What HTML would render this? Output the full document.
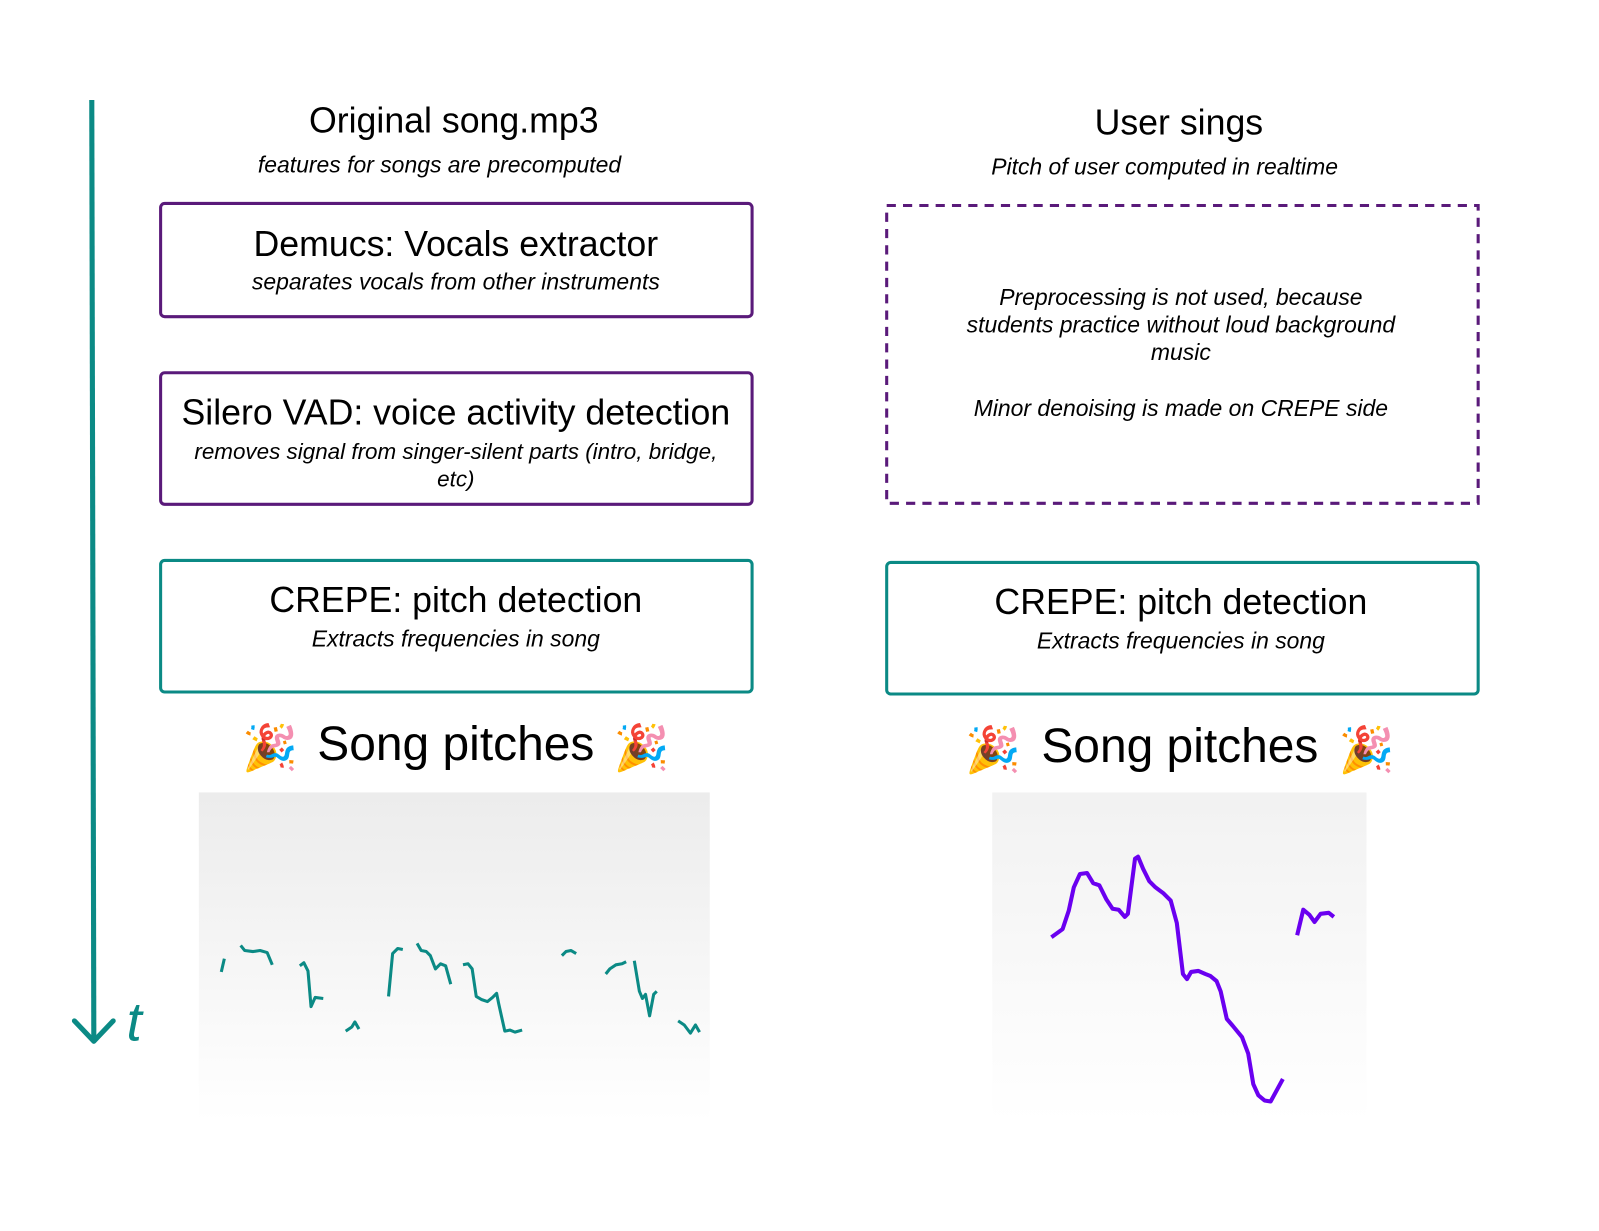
<!DOCTYPE html>
<html><head><meta charset="utf-8"><style>
html,body{margin:0;padding:0;background:#fff;}
svg{display:block;}
text{font-family:"Liberation Sans",sans-serif;fill:#000;}
.it{font-style:italic;}
</style></head><body>
<svg width="1599" height="1231" viewBox="0 0 1568 1207" preserveAspectRatio="none" xmlns="http://www.w3.org/2000/svg">
<defs>
<linearGradient id="g" x1="0" y1="0" x2="0" y2="1">
<stop offset="0" stop-color="#ececec"/><stop offset="1" stop-color="#ffffff"/>
</linearGradient>
</defs>
<rect width="1568" height="1207" fill="#fff"/>
<line x1="90" y1="98" x2="92" y2="1021" stroke="#0b8a85" stroke-width="5"/>
<polyline points="73,1001 92,1021 111,1001" fill="none" stroke="#0b8a85" stroke-width="5" stroke-linecap="round" stroke-linejoin="round"/>
<text x="124" y="1020" font-size="54" class="it" style="fill:#0b8a85">t</text>

<text x="445" y="130" font-size="35" text-anchor="middle">Original song.mp3</text>
<text x="431" y="169" font-size="22.5" class="it" text-anchor="middle">features for songs are precomputed</text>

<rect x="157.5" y="199.5" width="580" height="111" rx="4" fill="none" stroke="#5a1a7a" stroke-width="3"/>
<text x="447" y="251" font-size="35" text-anchor="middle">Demucs: Vocals extractor</text>
<text x="447" y="284" font-size="22.5" class="it" text-anchor="middle">separates vocals from other instruments</text>

<rect x="157.5" y="365.5" width="580" height="129" rx="4" fill="none" stroke="#5a1a7a" stroke-width="3"/>
<text x="447" y="416" font-size="35" text-anchor="middle">Silero VAD: voice activity detection</text>
<text x="447" y="450" font-size="22" class="it" text-anchor="middle">removes signal from singer-silent parts (intro, bridge,</text>
<text x="447" y="477" font-size="22" class="it" text-anchor="middle">etc)</text>

<rect x="157.5" y="549.5" width="580" height="129" rx="4" fill="none" stroke="#0b8a85" stroke-width="3"/>
<text x="447" y="600" font-size="35" text-anchor="middle">CREPE: pitch detection</text>
<text x="447" y="634" font-size="22.5" class="it" text-anchor="middle">Extracts frequencies in song</text>

<text x="447" y="745" font-size="47" text-anchor="middle">Song pitches</text>
<text x="265" y="748" font-size="44" text-anchor="middle">🎉</text>
<text x="629" y="748" font-size="44" text-anchor="middle">🎉</text>

<rect x="195" y="777" width="501" height="323" fill="url(#g)"/>
<g fill="none" stroke="#0b8a85" stroke-width="3" stroke-linejoin="round">
<polyline points="217,953 220,940"/>
<polyline points="236,927 240,932 248,933 255,932 262,934 267,946"/>
<polyline points="294,947 298,944 302,952 305,987 309,978 317,979"/>
<polyline points="339,1011 345,1007 348,1002 352,1009"/>
<polyline points="381,977 385,935 390,930 395,931"/>
<polyline points="409,925 413,932 418,933 422,937 427,950 432,945 437,947 442,965"/>
<polyline points="454,946 459,945 463,950 467,977 472,980 478,982 483,978 487,974 489,984 495,1011 500,1010 505,1012 512,1010"/>
<polyline points="551,937 555,933 560,932 565,935"/>
<polyline points="594,955 598,950 604,946 610,945 614,943"/>
<polyline points="622,942 627,972 630,979 633,975 637,996 641,975 644,972"/>
<polyline points="665,1001 671,1005 677,1013 682,1005 686,1012"/>
</g>

<text x="1156" y="132" font-size="35" text-anchor="middle">User sings</text>
<text x="1142" y="171" font-size="22.5" class="it" text-anchor="middle">Pitch of user computed in realtime</text>

<rect x="869.5" y="201.5" width="580" height="292" fill="none" stroke="#5a1a7a" stroke-width="3" stroke-dasharray="9,7"/>
<text x="1158" y="299" font-size="22.5" class="it" text-anchor="middle">Preprocessing is not used, because</text>
<text x="1158" y="326" font-size="22.5" class="it" text-anchor="middle">students practice without loud background</text>
<text x="1158" y="353" font-size="22.5" class="it" text-anchor="middle">music</text>
<text x="1158" y="408" font-size="22.5" class="it" text-anchor="middle">Minor denoising is made on CREPE side</text>

<rect x="869.5" y="551.5" width="580" height="129" rx="4" fill="none" stroke="#0b8a85" stroke-width="3"/>
<text x="1158" y="602" font-size="35" text-anchor="middle">CREPE: pitch detection</text>
<text x="1158" y="636" font-size="22.5" class="it" text-anchor="middle">Extracts frequencies in song</text>

<text x="1157" y="747" font-size="47" text-anchor="middle">Song pitches</text>
<text x="974" y="750" font-size="44" text-anchor="middle">🎉</text>
<text x="1340" y="750" font-size="44" text-anchor="middle">🎉</text>

<rect x="973" y="777" width="367" height="323" fill="url(#g)" opacity="0.7"/>
<g fill="none" stroke="#6a00f0" stroke-width="4" stroke-linejoin="round">
<polyline points="1031,919 1042,911 1048,893 1053,870 1059,857 1066,856 1072,866 1078,868 1085,882 1091,891 1097,892 1103,899 1106,896 1113,842 1116,840 1121,852 1127,864 1133,870 1141,876 1148,883 1154,905 1160,955 1164,960 1168,953 1175,952 1182,955 1187,957 1193,962 1197,972 1203,999 1209,1006 1218,1017 1224,1033 1229,1063 1234,1074 1240,1079 1246,1080 1258,1058"/>
<polyline points="1272,917 1278,892 1284,897 1289,904 1295,896 1303,895 1308,899"/>
</g>
</svg>
</body></html>
